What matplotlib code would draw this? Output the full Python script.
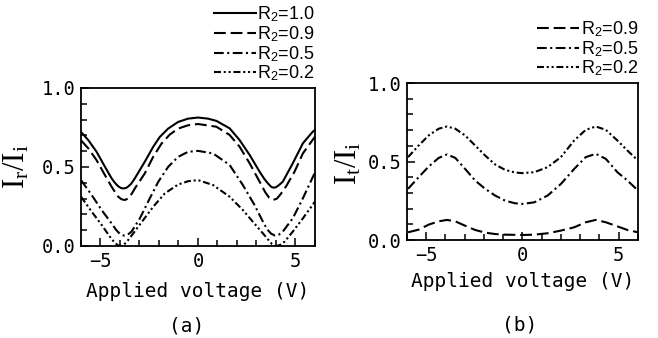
import matplotlib
matplotlib.use("Agg")
import matplotlib.pyplot as plt
from matplotlib.ticker import MultipleLocator, FormatStrFormatter

plt.rcParams["mathtext.fontset"] = "custom"
plt.rcParams["mathtext.rm"] = "Liberation Serif"
plt.rcParams["mathtext.it"] = "Liberation Serif:italic"
plt.rcParams["mathtext.sf"] = "Liberation Sans"
plt.rcParams["lines.scale_dashes"] = False

MONO = "DejaVu Sans Mono"

# (a) reflected intensity I_r/I_i vs applied voltage
volt_a10 = [-6.0, -5.62, -5.20, -4.77, -4.43, -4.25, -4.09, -3.95, -3.83, -3.70, -3.58, -3.42, -3.24,
            -2.73, -2.30, -1.96, -1.53, -1.02, -0.51, 0.0, 0.51, 0.94, 1.62, 2.13, 2.65, 3.16, 3.40,
            3.58, 3.75, 3.87, 4.00, 4.15, 4.35, 4.86, 5.38, 5.89, 6.0]
refl_10 = [0.722, 0.669, 0.596, 0.501, 0.428, 0.398, 0.378, 0.367, 0.364, 0.367, 0.376, 0.395, 0.428,
           0.533, 0.627, 0.690, 0.743, 0.785, 0.806, 0.813, 0.806, 0.792, 0.745, 0.671, 0.576, 0.470, 0.425,
           0.397, 0.375, 0.369, 0.372, 0.385, 0.407, 0.523, 0.650, 0.724, 0.734]

volt_a09 = [-6.0, -5.62, -5.20, -4.77, -4.43, -4.25, -4.09, -3.93, -3.75, -3.58, -3.40, -3.24, -2.73,
            -2.30, -1.87, -1.45, -1.02, -0.51, 0.0, 0.94, 1.62, 2.13, 2.65, 3.16, 3.45, 3.65, 3.85,
            4.05, 4.25, 4.53, 4.95, 5.38, 6.0]
refl_09 = [0.669, 0.617, 0.543, 0.448, 0.375, 0.340, 0.312, 0.296, 0.291, 0.301, 0.330, 0.364, 0.459,
           0.564, 0.648, 0.705, 0.743, 0.764, 0.772, 0.755, 0.703, 0.629, 0.523, 0.407, 0.340, 0.305, 0.291,
           0.300, 0.330, 0.380, 0.470, 0.586, 0.692]

volt_a05 = [-6.0, -5.45, -4.94, -4.43, -4.20, -4.00, -3.80, -3.60, -3.41, -2.98, -2.56, -2.04, -1.53,
            -1.02, -0.51, 0.0, 0.77, 1.62, 2.30, 2.90, 3.33, 3.55, 3.75, 3.95, 4.15, 4.35, 4.86, 5.38, 6.0]
refl_05 = [0.417, 0.322, 0.227, 0.143, 0.102, 0.076, 0.066, 0.072, 0.091, 0.175, 0.280, 0.406, 0.501,
           0.564, 0.596, 0.602, 0.586, 0.513, 0.386, 0.259, 0.154, 0.105, 0.078, 0.066, 0.072, 0.091, 0.175,
           0.302, 0.466]

volt_a02 = [-6.0, -5.45, -4.94, -4.52, -4.30, -4.10, -3.95, -3.80, -3.60, -3.32, -2.81, -2.30, -1.70,
            -1.02, -0.51, 0.0, 0.77, 1.62, 2.30, 2.81, 3.33, 3.60, 3.80, 4.00, 4.20, 4.44, 4.86, 5.38, 6.0]
refl_02 = [0.312, 0.217, 0.133, 0.059, 0.025, 0.004, 0.0, 0.008, 0.035, 0.080, 0.164, 0.248, 0.333,
           0.389, 0.410, 0.417, 0.386, 0.312, 0.228, 0.154, 0.080, 0.040, 0.012, 0.0, 0.006, 0.027, 0.091,
           0.175, 0.281]

# (b) transmitted intensity I_t/I_i vs applied voltage
volt_b = [-5.93, -5.38, -4.86, -4.34, -3.91, -3.48, -2.97, -2.45, -1.93, -1.41, -0.90, -0.38, 0.0,
          0.62, 1.31, 2.0, 2.69, 3.29, 3.81, 4.33, 4.93, 5.45, 6.0]
trans_02 = [0.528, 0.602, 0.666, 0.709, 0.723, 0.709, 0.666, 0.602, 0.538, 0.481, 0.447, 0.430, 0.426,
            0.432, 0.464, 0.528, 0.634, 0.702, 0.723, 0.702, 0.634, 0.570, 0.506]
trans_05 = [0.326, 0.400, 0.468, 0.523, 0.545, 0.523, 0.453, 0.379, 0.326, 0.283, 0.251, 0.234, 0.230,
            0.240, 0.283, 0.357, 0.453, 0.528, 0.549, 0.517, 0.432, 0.379, 0.315]
trans_09 = [0.049, 0.066, 0.098, 0.119, 0.128, 0.119, 0.091, 0.064, 0.047, 0.038, 0.034, 0.033, 0.032,
            0.034, 0.043, 0.060, 0.081, 0.113, 0.128, 0.113, 0.087, 0.064, 0.049]

STYLE = {
    "1.0": dict(linestyle="-"),
    "0.9": dict(dashes=(8.5, 3.5)),
    "0.5": dict(dashes=(7, 2.5, 1.5, 2.5)),
    "0.2": dict(dashes=(5, 2, 1.5, 2, 1.5, 2)),
}


def r2(v):
    return r"R$_\mathsf{2}$=" + v


def style_axes(ax, ylabel, label_xy):
    ax.set_xlim(-6, 6)
    ax.set_ylim(0, 1)
    ax.xaxis.set_major_locator(MultipleLocator(5))
    ax.xaxis.set_minor_locator(MultipleLocator(1))
    ax.yaxis.set_major_locator(MultipleLocator(0.5))
    ax.yaxis.set_minor_locator(MultipleLocator(0.1))
    ax.yaxis.set_major_formatter(FormatStrFormatter("%.1f"))
    ax.tick_params(which="both", direction="in", width=1.1, labelsize=13.5)
    ax.tick_params(which="major", length=6, pad=4)
    ax.tick_params(which="minor", length=4)
    for lab in ax.get_xticklabels() + ax.get_yticklabels():
        lab.set_fontfamily(MONO)
    for s in ax.spines.values():
        s.set_linewidth(1.3)
    ax.set_ylabel(ylabel, fontsize=22, fontfamily="Liberation Serif")
    ax.yaxis.set_label_coords(*label_xy)
    ax.legend(loc="lower right", bbox_to_anchor=(1.0, 1.03), frameon=False,
              prop={"family": "Liberation Sans", "size": 13}, handlelength=2.3,
              handletextpad=0.1, labelspacing=0.0, borderpad=0, borderaxespad=0)


fig = plt.figure(figsize=(6.58, 3.38), dpi=100)
ax1 = fig.add_axes([0.1231, 0.2722, 0.3556, 0.4675])
ax2 = fig.add_axes([0.6181, 0.2899, 0.3515, 0.4645])

lw = 1.5
ax1.plot(volt_a10, refl_10, color="k", lw=lw, label=r2("1.0"), **STYLE["1.0"])
ax1.plot(volt_a09, refl_09, color="k", lw=lw, label=r2("0.9"), **STYLE["0.9"])
ax1.plot(volt_a05, refl_05, color="k", lw=lw, label=r2("0.5"), **STYLE["0.5"])
ax1.plot(volt_a02, refl_02, color="k", lw=lw, label=r2("0.2"), **STYLE["0.2"])
style_axes(ax1, r"I$_\mathrm{r}$/I$_\mathrm{i}$", (-0.21, 0.5))
ax1.set_xlabel("Applied voltage (V)", fontsize=14, fontfamily=MONO, labelpad=8)

ax2.plot(volt_b, trans_09, color="k", lw=lw, label=r2("0.9"), **STYLE["0.9"])
ax2.plot(volt_b, trans_05, color="k", lw=lw, label=r2("0.5"), **STYLE["0.5"])
ax2.plot(volt_b, trans_02, color="k", lw=lw, label=r2("0.2"), **STYLE["0.2"])
style_axes(ax2, r"I$_\mathrm{t}$/I$_\mathrm{i}$", (-0.185, 0.49))
ax2.set_xlabel("Applied voltage (V)", fontsize=14, fontfamily=MONO, labelpad=5)

fig.text(187 / 658, 1 - 326 / 338, "(a)", fontsize=14, fontfamily=MONO, ha="center", va="center")
fig.text(520 / 658, 1 - 325 / 338, "(b)", fontsize=14, fontfamily=MONO, ha="center", va="center")

fig.savefig("out.png", dpi=100)
